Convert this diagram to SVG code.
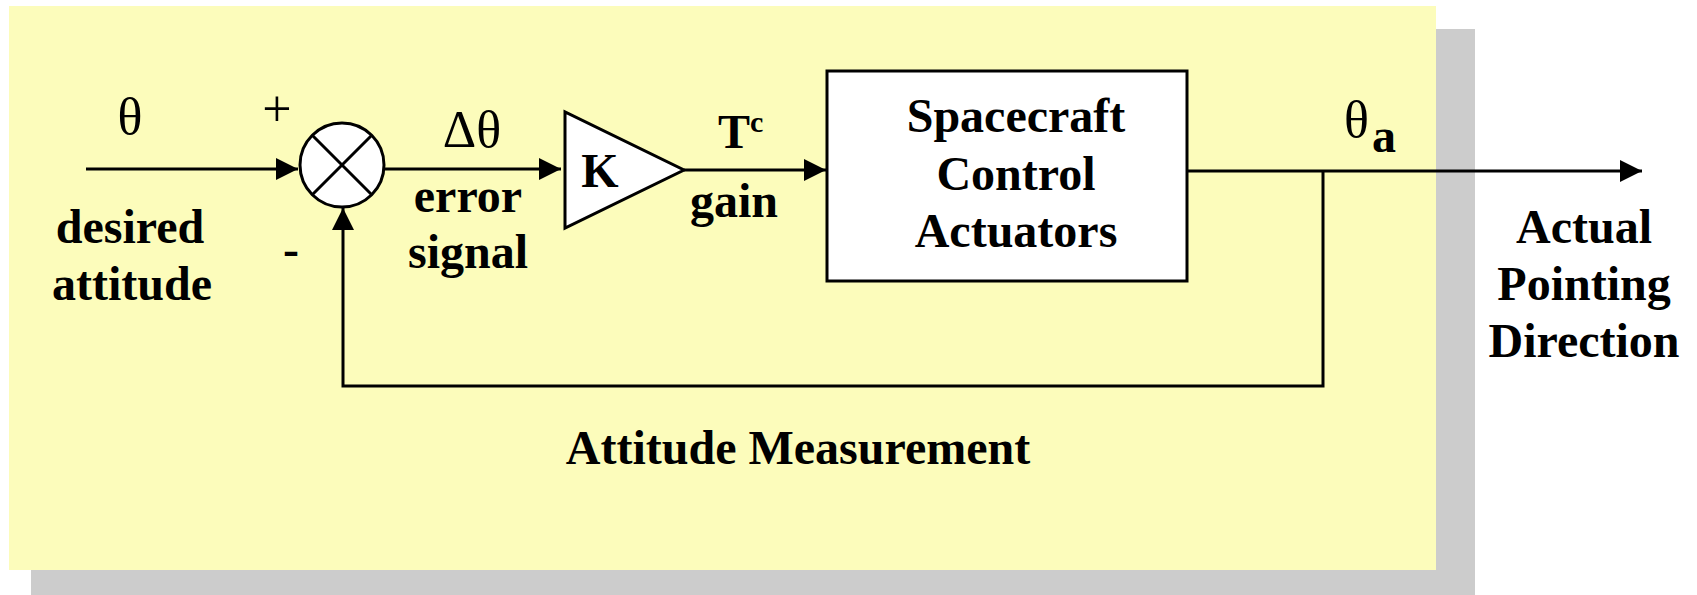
<svg xmlns="http://www.w3.org/2000/svg" width="1697" height="595" viewBox="0 0 1697 595">
<style>
.ln{fill:none;stroke:#000;stroke-width:3}
.blk{fill:#fff;stroke:#000;stroke-width:3}
.b{font-family:"Liberation Serif","Times New Roman",serif;font-weight:bold;font-size:48px;fill:#000;text-anchor:middle}
.r{font-family:"Liberation Serif","Times New Roman",serif;font-size:52px;fill:#000;text-anchor:middle}
.st{text-anchor:start}
</style>
<defs>
<marker id="arr" viewBox="0 0 22 22" refX="22" refY="11" markerWidth="22" markerHeight="22" markerUnits="userSpaceOnUse" orient="auto">
<path d="M0,0 L22,11 L0,22 Z" fill="#000"/>
</marker>
</defs>
<g id="background">
<rect x="31" y="29" width="1444" height="566" fill="#CCCCCC"/>
<rect x="9" y="6" width="1427" height="564" fill="#FCFCBB"/>
</g>
<g id="connectors">
<line class="ln" x1="86" y1="169" x2="298" y2="169" marker-end="url(#arr)"/>
<line class="ln" x1="384" y1="169" x2="561" y2="169" marker-end="url(#arr)"/>
<line class="ln" x1="684" y1="170" x2="826" y2="170" marker-end="url(#arr)"/>
<line class="ln" x1="1187" y1="171" x2="1642" y2="171" marker-end="url(#arr)"/>
<path class="ln" d="M1323,171 V386 H343 V208" marker-end="url(#arr)"/>
</g>
<g id="sum">
<circle class="blk" cx="342" cy="165" r="42"/>
<line class="ln" x1="312" y1="135" x2="372" y2="195"/>
<line class="ln" x1="372" y1="135" x2="312" y2="195"/>
</g>
<g id="gain">
<polygon class="blk" points="565,112 565,228 684,170"/>
<text class="b" x="600" y="187">K</text>
</g>
<g id="plant">
<rect class="blk" x="827" y="71" width="360" height="210"/>
<text class="b" x="1016" y="132">Spacecraft</text>
<text class="b" x="1016" y="190">Control</text>
<text class="b" x="1016" y="247">Actuators</text>
</g>
<g id="labels">
<text class="r" x="130" y="134">θ</text>
<text class="r" x="277" y="126">+</text>
<text class="b" x="291" y="265">-</text>
<text class="b" x="130" y="243">desired</text>
<text class="b" x="132" y="300">attitude</text>
<text class="r" x="472" y="147" font-size="46">Δθ</text>
<text class="b" x="468" y="212">error</text>
<text class="b" x="468" y="268">signal</text>
<text class="b st" x="718" y="148">T<tspan font-size="30" dy="-16">c</tspan></text>
<text class="b" x="734" y="217">gain</text>
<text class="r st" x="1344" y="137">θ<tspan class="b" font-size="27" dx="3" dy="15">a</tspan></text>
<text class="b" x="1584" y="243">Actual</text>
<text class="b" x="1584" y="300">Pointing</text>
<text class="b" x="1584" y="357">Direction</text>
<text class="b" x="798" y="464">Attitude Measurement</text>
</g>
</svg>
